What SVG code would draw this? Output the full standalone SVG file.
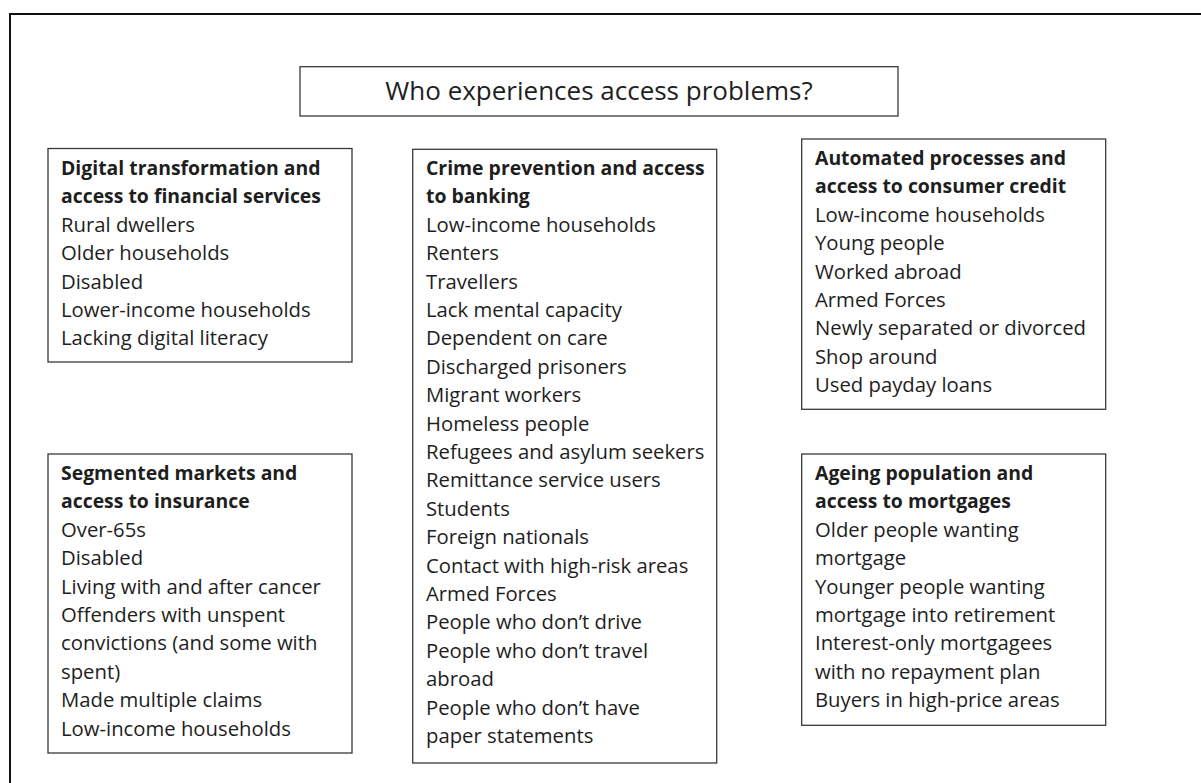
<svg xmlns="http://www.w3.org/2000/svg" width="1201" height="783" viewBox="0 0 1201 783">
<style>
.box{fill:#fff;stroke:#3a3a3a;stroke-width:1.3}
.t{font-family:"Open Sans","Liberation Sans",sans-serif;font-size:20.3px;fill:#1e1e1e}
.b{font-weight:bold;font-size:19.4px}
.title{font-family:"Open Sans","Liberation Sans",sans-serif;font-size:26px;fill:#1e1e1e;text-anchor:middle}
</style>
<rect x="0" y="0" width="1201" height="783" fill="#fff"/>
<rect id="frame" x="10" y="14" width="1220" height="800" fill="none" stroke="#111" stroke-width="2"/>
<g id="title">
<rect class="box" x="300" y="66.7" width="598" height="49.3"/>
<text class="title" x="599" y="100">Who experiences access problems?</text>
</g>
<g id="digital">
<rect class="box" x="48" y="148.5" width="304" height="213.5"/>
<text class="t" x="61" y="175"><tspan class="b">Digital transformation and</tspan><tspan class="b" x="61" dy="28.4">access to financial services</tspan><tspan x="61" dy="28.4">Rural dwellers</tspan><tspan x="61" dy="28.4">Older households</tspan><tspan x="61" dy="28.4">Disabled</tspan><tspan x="61" dy="28.4">Lower-income households</tspan><tspan x="61" dy="28.4">Lacking digital literacy</tspan></text>
</g>
<g id="insurance">
<rect class="box" x="48" y="454" width="304" height="299"/>
<text class="t" x="61" y="480"><tspan class="b">Segmented markets and</tspan><tspan class="b" x="61" dy="28.4">access to insurance</tspan><tspan x="61" dy="28.4">Over-65s</tspan><tspan x="61" dy="28.4">Disabled</tspan><tspan x="61" dy="28.4">Living with and after cancer</tspan><tspan x="61" dy="28.4">Offenders with unspent</tspan><tspan x="61" dy="28.4">convictions (and some with</tspan><tspan x="61" dy="28.4">spent)</tspan><tspan x="61" dy="28.4">Made multiple claims</tspan><tspan x="61" dy="28.4">Low-income households</tspan></text>
</g>
<g id="crime">
<rect class="box" x="412.7" y="149.3" width="304" height="613.7"/>
<text class="t" x="426" y="175"><tspan class="b">Crime prevention and access</tspan><tspan class="b" x="426" dy="28.4">to banking</tspan><tspan x="426" dy="28.4">Low-income households</tspan><tspan x="426" dy="28.4">Renters</tspan><tspan x="426" dy="28.4">Travellers</tspan><tspan x="426" dy="28.4">Lack mental capacity</tspan><tspan x="426" dy="28.4">Dependent on care</tspan><tspan x="426" dy="28.4">Discharged prisoners</tspan><tspan x="426" dy="28.4">Migrant workers</tspan><tspan x="426" dy="28.4">Homeless people</tspan><tspan x="426" dy="28.4">Refugees and asylum seekers</tspan><tspan x="426" dy="28.4">Remittance service users</tspan><tspan x="426" dy="28.4">Students</tspan><tspan x="426" dy="28.4">Foreign nationals</tspan><tspan x="426" dy="28.4">Contact with high-risk areas</tspan><tspan x="426" dy="28.4">Armed Forces</tspan><tspan x="426" dy="28.4">People who don’t drive</tspan><tspan x="426" dy="28.4">People who don’t travel</tspan><tspan x="426" dy="28.4">abroad</tspan><tspan x="426" dy="28.4">People who don’t have</tspan><tspan x="426" dy="28.4">paper statements</tspan></text>
</g>
<g id="credit">
<rect class="box" x="801.7" y="139" width="304" height="270.3"/>
<text class="t" x="815" y="165"><tspan class="b">Automated processes and</tspan><tspan class="b" x="815" dy="28.4">access to consumer credit</tspan><tspan x="815" dy="28.4">Low-income households</tspan><tspan x="815" dy="28.4">Young people</tspan><tspan x="815" dy="28.4">Worked abroad</tspan><tspan x="815" dy="28.4">Armed Forces</tspan><tspan x="815" dy="28.4">Newly separated or divorced</tspan><tspan x="815" dy="28.4">Shop around</tspan><tspan x="815" dy="28.4">Used payday loans</tspan></text>
</g>
<g id="mortgages">
<rect class="box" x="801.7" y="454" width="304" height="271.3"/>
<text class="t" x="815" y="480"><tspan class="b">Ageing population and</tspan><tspan class="b" x="815" dy="28.4">access to mortgages</tspan><tspan x="815" dy="28.4">Older people wanting</tspan><tspan x="815" dy="28.4">mortgage</tspan><tspan x="815" dy="28.4">Younger people wanting</tspan><tspan x="815" dy="28.4">mortgage into retirement</tspan><tspan x="815" dy="28.4">Interest-only mortgagees</tspan><tspan x="815" dy="28.4">with no repayment plan</tspan><tspan x="815" dy="28.4">Buyers in high-price areas</tspan></text>
</g>
</svg>
